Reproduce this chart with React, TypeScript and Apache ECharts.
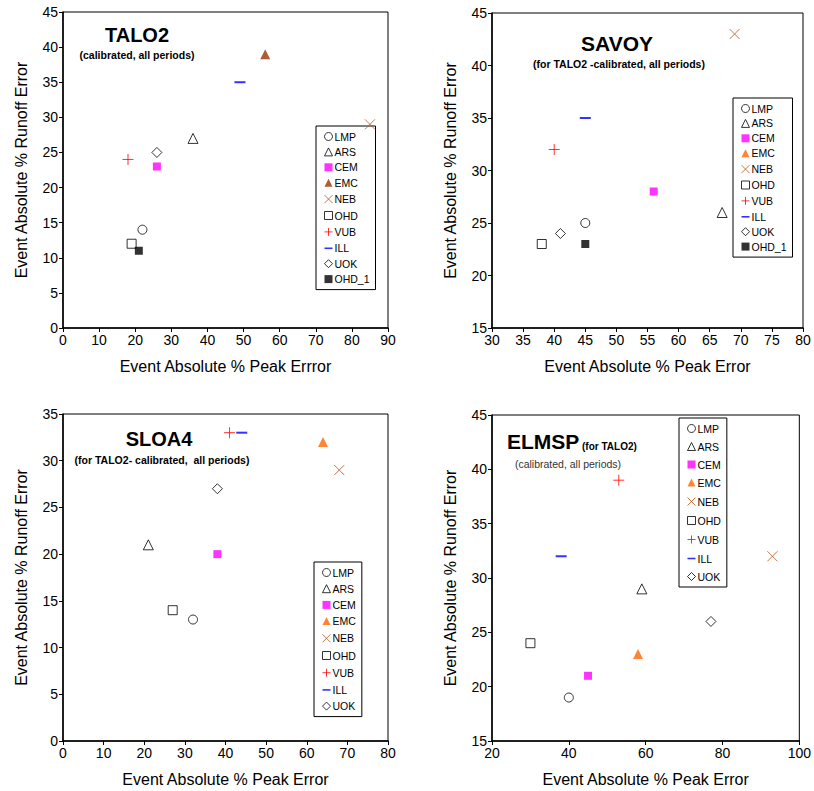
import React, { useEffect, useRef } from "react";
import * as echarts from "echarts";

// ---------- data ----------
const talo2Names = ["LMP", "ARS", "CEM", "EMC", "NEB", "OHD", "VUB", "ILL", "UOK", "OHD_1"];
const talo2Peak = [22, 36, 26, 56, 85, 19, 18, 49, 26, 21];
const talo2Runoff = [14, 27, 23, 39, 29, 12, 24, 35, 25, 11];

const savoyNames = ["LMP", "ARS", "CEM", "EMC", "NEB", "OHD", "VUB", "ILL", "UOK", "OHD_1"];
const savoyPeak = [45, 67, 56, null, 69, 38, 40, 45, 41, 45];
const savoyRunoff = [25, 26, 28, null, 43, 23, 32, 35, 24, 23];

const sloa4Names = ["LMP", "ARS", "CEM", "EMC", "NEB", "OHD", "VUB", "ILL", "UOK"];
const sloa4Peak = [32, 21, 38, 64, 68, 27, 41, 44, 38];
const sloa4Runoff = [13, 21, 20, 32, 29, 14, 33, 33, 27];

const elmspNames = ["LMP", "ARS", "CEM", "EMC", "NEB", "OHD", "VUB", "ILL", "UOK"];
const elmspPeak = [40, 59, 45, 58, 93, 30, 53, 38, 77];
const elmspRunoff = [19, 29, 21, 23, 32, 24, 39, 32, 26];

const xTitles = [
  "Event Absolute % Peak Errror",
  "Event Absolute % Peak Error",
  "Event Absolute % Peak Error",
  "Event Absolute % Peak Error",
];
const yTitle = "Event Absolute % Runoff Error";

const FONT = "Liberation Sans, Arial, sans-serif";
const X_PATH = "path://M0,0L10,10M0,10L10,0";
const PLUS_PATH = "path://M5,0L5,10M0,5L10,5";
const DASH_PATH = "path://M0,0h10v2h-10z";

function markerStyle(name: string, emcColor: string) {
  const hollow = { color: "#ffffff", borderColor: "#000000", borderWidth: 1 };
  switch (name) {
    case "LMP":
      return { symbol: "circle", size: 9, legendIcon: "circle", itemStyle: hollow };
    case "ARS":
      return { symbol: "triangle", size: 10, legendIcon: "triangle", itemStyle: hollow };
    case "CEM":
      return { symbol: "rect", size: 8, legendIcon: "rect", itemStyle: { color: "#FF00FF", borderWidth: 0 } };
    case "EMC":
      return { symbol: "triangle", size: 10, legendIcon: "triangle", itemStyle: { color: emcColor, borderWidth: 0 } };
    case "NEB":
      return { symbol: X_PATH, size: 10, legendIcon: X_PATH, itemStyle: { color: "none", borderColor: "#B8571E", borderWidth: 1 } };
    case "OHD":
      return { symbol: "rect", size: 9, legendIcon: "rect", itemStyle: hollow };
    case "VUB":
      return { symbol: PLUS_PATH, size: 11, legendIcon: PLUS_PATH, itemStyle: { color: "none", borderColor: "#FF0000", borderWidth: 1 } };
    case "ILL":
      return { symbol: "rect", size: [11, 2], legendIcon: DASH_PATH, itemStyle: { color: "#0000FF", borderWidth: 0 } };
    case "UOK":
      return { symbol: "diamond", size: 10, legendIcon: "diamond", itemStyle: hollow };
    default:
      return { symbol: "rect", size: 8, legendIcon: "rect", itemStyle: { color: "#000000", borderWidth: 0 } };
  }
}

const panels = [
  { names: talo2Names, xs: talo2Peak, ys: talo2Runoff, emc: "#993300",
    grid: { left: 63, top: 12, width: 325, height: 316 },
    x: { min: 0, max: 90, interval: 10 }, y: { min: 0, max: 45, interval: 5 },
    legend: { left: 316, top: 126, gap: 4.4 } },
  { names: savoyNames, xs: savoyPeak, ys: savoyRunoff, emc: "#FF6600",
    grid: { left: 492, top: 13, width: 311, height: 315 },
    x: { min: 30, max: 80, interval: 5 }, y: { min: 15, max: 45, interval: 5 },
    legend: { left: 733, top: 98, gap: 3.9 } },
  { names: sloa4Names, xs: sloa4Peak, ys: sloa4Runoff, emc: "#FF6600",
    grid: { left: 63, top: 414, width: 325, height: 327 },
    x: { min: 0, max: 80, interval: 10 }, y: { min: 0, max: 35, interval: 5 },
    legend: { left: 314, top: 562, gap: 5.2 } },
  { names: elmspNames, xs: elmspPeak, ys: elmspRunoff, emc: "#FF6600",
    grid: { left: 492, top: 415, width: 311, height: 326 },
    x: { min: 20, max: 100, interval: 20 }, y: { min: 15, max: 45, interval: 5 },
    legend: { left: 679, top: 418, gap: 7 } },
];

export default function App() {
  const ref = useRef<HTMLDivElement>(null);
  useEffect(() => {
    if (!ref.current) return;
    const chart = echarts.init(ref.current, undefined, { renderer: "svg" });

    const grids: any[] = [];
    const xAxes: any[] = [];
    const yAxes: any[] = [];
    const series: any[] = [];
    const legends: any[] = [];

    const axisCommon = {
      type: "value",
      axisLine: { show: true, onZero: false, lineStyle: { color: "#000", width: 1.5 } },
      axisTick: { show: true, inside: false, length: 4, lineStyle: { color: "#000", width: 1 } },
      splitLine: { show: false },
      axisLabel: { color: "#000", fontSize: 14, fontFamily: FONT, margin: 5 },
      nameLocation: "middle",
      nameTextStyle: { color: "#000", fontSize: 16, fontFamily: FONT },
    };

    panels.forEach((p, i) => {
      grids.push({ ...p.grid, show: true, borderColor: "#000", borderWidth: 1, backgroundColor: "#fff", containLabel: false });
      xAxes.push({ ...axisCommon, gridIndex: i, min: p.x.min, max: p.x.max, interval: p.x.interval, name: xTitles[i], nameGap: 30 });
      yAxes.push({ ...axisCommon, gridIndex: i, min: p.y.min, max: p.y.max, interval: p.y.interval, name: yTitle, nameGap: 34 });
      p.names.forEach((n, k) => {
        const m = markerStyle(n, p.emc);
        const data = p.xs[k] == null ? [] : [[p.xs[k], p.ys[k]]];
        series.push({
          type: "scatter",
          name: n,
          xAxisIndex: i,
          yAxisIndex: i,
          symbol: m.symbol,
          symbolSize: m.size,
          itemStyle: m.itemStyle,
          data,
          silent: true,
          z: 2,
        });
      });
      legends.push({
        orient: "vertical",
        left: p.legend.left,
        top: p.legend.top,
        backgroundColor: "#fff",
        borderColor: "#000",
        borderWidth: 1,
        padding: [5, 6, 5, 6],
        itemGap: p.legend.gap,
        itemWidth: 8,
        itemHeight: 8,
        selectedMode: false,
        textStyle: { color: "#000", fontSize: 10.5, fontFamily: FONT, padding: [0, 0, 0, -3] },
        data: p.names.map((n) => {
          const m = markerStyle(n, p.emc);
          return { name: n, icon: m.legendIcon, itemStyle: m.itemStyle };
        }),
        z: 1,
      });
    });

    const t = (text: string, x: number, y: number, size: number, bold: boolean, color = "#000", align = "center") => ({
      type: "text",
      x,
      y,
      z: 100,
      style: {
        text,
        fontSize: size,
        fontWeight: bold ? "bold" : "normal",
        fontFamily: FONT,
        fill: color,
        textAlign: align,
        textVerticalAlign: "middle",
      },
    });

    const graphics = [
      t("TALO2", 137, 35, 20, true),
      t("(calibrated, all periods)", 137, 55, 10.5, true),
      t("SAVOY", 617, 43, 21, true),
      t("(for TALO2 -calibrated, all periods)", 619, 64, 10.5, true),
      t("SLOA4", 159, 439, 20, true),
      t("(for TALO2- calibrated,  all periods)", 162, 460, 10.5, true),
      t("ELMSP", 507, 441, 21, true, "#000", "left"),
      t("(for TALO2)", 582, 446, 10, true, "#000", "left"),
      t("(calibrated, all periods)", 568, 464, 10.5, false, "#333", "center"),
    ];

    chart.setOption({
      animation: false,
      backgroundColor: "#fff",
      grid: grids,
      xAxis: xAxes,
      yAxis: yAxes,
      legend: legends,
      series,
      graphic: graphics,
    });
    return () => chart.dispose();
  }, []);
  return (
    <div
      ref={ref}
      style={{ position: "fixed", left: 0, top: 0, width: 814, height: 791, background: "#fff" }}
    />
  );
}
